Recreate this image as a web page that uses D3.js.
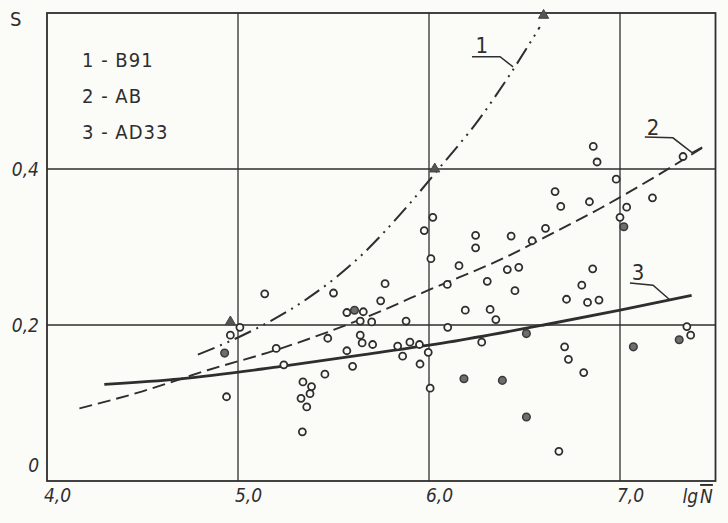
<!DOCTYPE html>
<html>
<head>
<meta charset="utf-8">
<script src="https://cdn.jsdelivr.net/npm/d3@7"></script>
<style>
  html, body { margin: 0; padding: 0; background: #fbfbf8; }
  svg { display: block; }
  .lbl { font-family: "DejaVu Sans Condensed", "Liberation Sans Narrow", sans-serif; fill: #2e2e2e; }
</style>
</head>
<body>
<div id="chart"></div>
<script>

// open circles: [lgN, S]
const openPoints = [
  [4.94,0.108],[5.01,0.197],[4.96,0.187],[5.14,0.24],[5.20,0.17],[5.24,0.149],
  [5.33,0.106],[5.337,0.063],[5.34,0.127],[5.36,0.095],[5.377,0.112],[5.385,0.121],
  [5.455,0.137],[5.47,0.183],[5.50,0.241],[5.57,0.216],[5.57,0.167],[5.60,0.147],
  [5.64,0.205],[5.64,0.187],[5.65,0.177],[5.656,0.217],[5.70,0.204],[5.705,0.175],
  [5.747,0.231],[5.77,0.253],[5.836,0.173],[5.862,0.16],[5.88,0.205],[5.90,0.178],
  [5.95,0.175],[5.953,0.15],[5.975,0.321],[5.996,0.165],[6.006,0.119],[6.01,0.285],
  [6.02,0.338],[6.096,0.252],[6.098,0.197],[6.157,0.276],[6.19,0.219],[6.244,0.315],
  [6.244,0.299],[6.276,0.178],[6.305,0.256],[6.32,0.22],[6.35,0.207],[6.41,0.271],
  [6.43,0.314],[6.45,0.244],[6.47,0.274],[6.54,0.308],[6.61,0.324],[6.66,0.371],
  [6.68,0.038],[6.69,0.352],[6.71,0.172],[6.72,0.233],[6.73,0.156],[6.80,0.251],
  [6.81,0.139],[6.83,0.229],[6.84,0.358],[6.857,0.272],[6.86,0.429],[6.88,0.409],
  [6.89,0.232],[6.98,0.387],[7.0,0.338],[7.035,0.351],[7.17,0.363],[7.33,0.416],
  [7.35,0.198],[7.37,0.187]
];

// dark (filled) circles
const filledPoints = [
  [4.93,0.164],[5.61,0.219],[6.183,0.131],[6.384,0.129],[6.51,0.082],
  [6.51,0.189],[7.07,0.172],[7.31,0.181],[7.02,0.326]
];

// curve 1 markers
const markers1 = [[4.96,0.204],[6.03,0.40],[6.6,0.597]];

const curve1 = [[4.79,0.162],[5.0,0.184],[5.17,0.205],[5.37,0.235],[5.64,0.288],
  [5.90,0.356],[6.05,0.40],[6.26,0.463],[6.41,0.516],[6.58,0.582]];
const curve2 = [[4.17,0.093],[4.5,0.115],[4.84,0.142],[5.2,0.168],[5.47,0.191],
  [5.75,0.218],[6.0,0.245],[6.41,0.288],[6.61,0.313],[6.9,0.35],[7.17,0.388],[7.43,0.427]];
const curve3 = [[4.3,0.124],[4.7,0.131],[5.2,0.146],[5.66,0.162],[6.1,0.178],
  [6.6,0.2],[7.0,0.219],[7.375,0.238]];

const legendLines = ["1 - B91", "2 - AB", "3 - AD33"];

const xTicks = [4, 5, 6, 7];
const xTickLabels = ["4,0", "5,0", "6,0", "7,0"];
const yTicks = [0, 0.2, 0.4];
const yTickLabels = ["0", "0,2", "0,4"];

// callout labels with leader lines, in data units
const callouts = [
  { text: "1", at: [6.277, 0.559], leader: [[6.225,0.544],[6.372,0.544],[6.44,0.531]] },
  { text: "2", at: [7.173, 0.454], leader: [[7.13,0.441],[7.277,0.44],[7.377,0.421],[7.43,0.428]] },
  { text: "3", at: [7.094, 0.268], leader: [[7.052,0.254],[7.173,0.251],[7.262,0.232]] }
];

const width = 728, height = 523;
const margin = { top: 13, right: 12, bottom: 42, left: 47 };

const x = d3.scaleLinear().domain([4, 7.5]).range([margin.left, width - margin.right - 0.5]);
const y = d3.scaleLinear().domain([0, 0.6]).range([height - margin.bottom, margin.top]);

const svg = d3.select("#chart").append("svg")
  .attr("width", width)
  .attr("height", height);

const ink = "#2e2e2e";

// grid
svg.append("g")
  .selectAll("line.vgrid")
  .data([5, 6, 7])
  .join("line")
    .attr("x1", d => x(d)).attr("x2", d => x(d))
    .attr("y1", y(0)).attr("y2", y(0.6))
    .attr("stroke", ink).attr("stroke-width", 1.3);

svg.append("g")
  .selectAll("line.hgrid")
  .data([0.2, 0.4])
  .join("line")
    .attr("x1", x(4)).attr("x2", x(7.5))
    .attr("y1", d => y(d)).attr("y2", d => y(d))
    .attr("stroke", ink).attr("stroke-width", 1.3);

// frame
svg.append("rect")
  .attr("x", x(4)).attr("y", y(0.6))
  .attr("width", x(7.5) - x(4)).attr("height", y(0) - y(0.6))
  .attr("fill", "none").attr("stroke", ink).attr("stroke-width", 1.8);

// tick labels
svg.append("g")
  .selectAll("text")
  .data(xTicks)
  .join("text")
    .attr("class", "lbl")
    .attr("x", d => x(d) - 3)
    .attr("y", y(0) + 21)
    .style("font-size", "19px")
    .style("font-style", "italic")
    .text((d, i) => xTickLabels[i]);

svg.append("g")
  .selectAll("text")
  .data(yTicks)
  .join("text")
    .attr("class", "lbl")
    .attr("x", 39)
    .attr("y", d => d === 0 ? y(d) - 9 : y(d) + 7)
    .attr("text-anchor", "end")
    .style("font-size", "19px")
    .style("font-style", "italic")
    .text((d, i) => yTickLabels[i]);

svg.append("text")
  .attr("class", "lbl")
  .attr("x", 10).attr("y", 26)
  .style("font-size", "20px")
  .text("S");

const xl = svg.append("text")
  .attr("class", "lbl")
  .attr("x", x(7.5) - 33).attr("y", y(0) + 22)
  .style("font-size", "19px")
  .style("font-style", "italic");
xl.append("tspan").text("lg");
xl.append("tspan").attr("dx", 2).style("text-decoration", "overline").text("N");

// legend
svg.append("g")
  .selectAll("text")
  .data(legendLines)
  .join("text")
    .attr("class", "lbl")
    .attr("x", 82)
    .attr("y", (d, i) => 67 + i * 36)
    .style("font-size", "20px")
    .style("letter-spacing", "1px")
    .attr("xml:space", "preserve")
    .text(d => d);

// curves
const line = d3.line().x(d => x(d[0])).y(d => y(d[1])).curve(d3.curveMonotoneX);

svg.append("path").datum(curve1)
  .attr("d", line).attr("fill", "none")
  .attr("stroke", ink).attr("stroke-width", 2)
  .attr("stroke-dasharray", "18,6,2,6,2,6");

svg.append("path").datum(curve2)
  .attr("d", line).attr("fill", "none")
  .attr("stroke", ink).attr("stroke-width", 1.9)
  .attr("stroke-dasharray", "13,6");

svg.append("path").datum(curve3)
  .attr("d", line).attr("fill", "none")
  .attr("stroke", ink).attr("stroke-width", 2.8);

// callouts
const co = svg.append("g");
co.selectAll("path")
  .data(callouts)
  .join("path")
    .attr("d", d => d3.line().x(p => x(p[0])).y(p => y(p[1]))(d.leader))
    .attr("fill", "none").attr("stroke", ink).attr("stroke-width", 1.5);
co.selectAll("text")
  .data(callouts)
  .join("text")
    .attr("class", "lbl")
    .attr("x", d => x(d.at[0]))
    .attr("y", d => y(d.at[1]) + 8)
    .attr("text-anchor", "middle")
    .style("font-size", "22px")
    .text(d => d.text);

// points
svg.append("g")
  .selectAll("circle")
  .data(openPoints)
  .join("circle")
    .attr("cx", d => x(d[0])).attr("cy", d => y(d[1]))
    .attr("r", 3.5)
    .attr("fill", "#fbfbf8").attr("stroke", ink).attr("stroke-width", 1.8);

svg.append("g")
  .selectAll("circle")
  .data(filledPoints)
  .join("circle")
    .attr("cx", d => x(d[0])).attr("cy", d => y(d[1]))
    .attr("r", 3.8)
    .attr("fill", "#6e6e6e").attr("stroke", "#3a3a3a").attr("stroke-width", 1.5);

svg.append("g")
  .selectAll("path")
  .data(markers1)
  .join("path")
    .attr("transform", d => `translate(${x(d[0])},${y(d[1])})`)
    .attr("d", d3.symbol(d3.symbolTriangle, 45))
    .attr("fill", "#555").attr("stroke", "#444").attr("stroke-width", 1);

</script>
</body>
</html>
